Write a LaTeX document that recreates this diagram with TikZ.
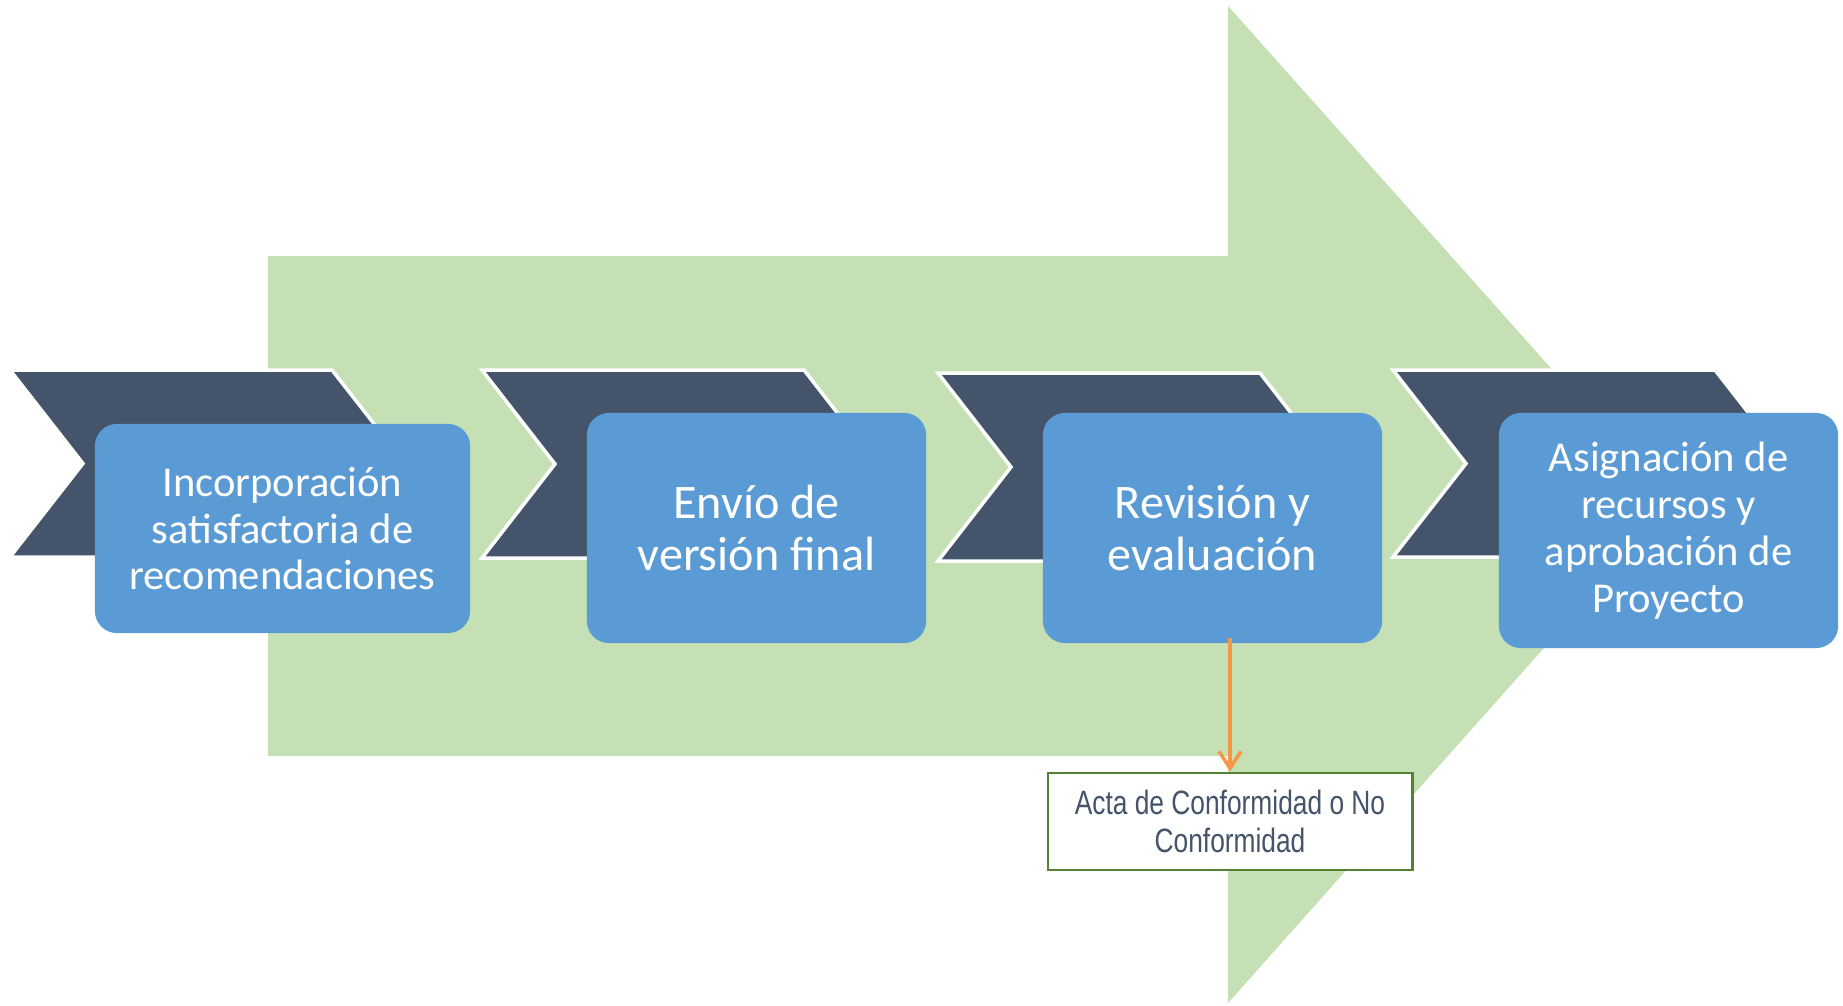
\documentclass[tikz,border=0pt]{standalone}
\usepackage{fontspec}
\setmainfont{Carlito}
\newfontfamily\narrowfont[FakeStretch=0.78]{Liberation Sans}
\usetikzlibrary{arrows.meta}
\definecolor{arrowgreen}{HTML}{C5E0B4}
\definecolor{chevdark}{HTML}{44546A}
\definecolor{stepblue}{HTML}{5B9BD5}
\definecolor{actgreen}{HTML}{548235}
\definecolor{linkorange}{HTML}{F79646}
\tikzset{
  chevron/.style={fill=chevdark,draw=white,line width=1pt},
  stepbox/.style={fill=stepblue,rounded corners=0.22cm,text=white,align=center,inner sep=0pt},
  actbox/.style={fill=white,draw=actgreen,line width=0.8pt,text=chevdark,align=center,inner sep=0pt},
}
\begin{document}
\begin{tikzpicture}[x=0.01cm,y=-0.01cm]
  \useasboundingbox (0,0) rectangle (1843,1005);

  % big background arrow
  \fill[arrowgreen] (268,256) -- (1228,256) -- (1228,6) -- (1672,504)
    -- (1228,1003) -- (1228,756) -- (268,756) -- cycle;

  % chevrons: left x / top y / bottom y
  \foreach \cl/\ct/\cb in {10/370/557, 482/370/558, 938/373/561, 1393/370/557}
    \draw[chevron] (\cl,\ct) -- ({\cl+322},\ct) -- ({\cl+395},{(\ct+\cb)/2})
      -- ({\cl+322},\cb) -- (\cl,\cb) -- ({\cl+73},{(\ct+\cb)/2}) -- cycle;

  % steps
  \node[stepbox,minimum width=3.75cm,minimum height=2.09cm,font=\fontsize{12.1}{13.1}\selectfont]
    (inc) at (282.5,528.5) {Incorporación\\satisfactoria de\\recomendaciones};
  \node[stepbox,minimum width=3.39cm,minimum height=2.30cm,font=\fontsize{13.7}{14.8}\selectfont]
    (env) at (756.5,528) {Envío de\\versión final};
  \node[stepbox,minimum width=3.39cm,minimum height=2.30cm,font=\fontsize{13.7}{14.8}\selectfont]
    (rev) at (1212.5,528) {Revisión y\\evaluación};
  \node[stepbox,minimum width=3.39cm,minimum height=2.35cm,font=\fontsize{12.1}{13.4}\selectfont]
    (asg) at (1668.5,530.5) {Asignación de\\recursos y\\aprobación de\\Proyecto};

  % output of the review
  \node[actbox,minimum width=3.64cm,minimum height=0.97cm,font=\narrowfont\fontsize{9.6}{10.9}\selectfont]
    (act) at (1230,821.5) {Acta de Conformidad o No\\Conformidad};
  \draw[linkorange,line width=1pt,-{Straight Barb[length=0.17cm,width=0.22cm]}]
    ([yshift=0.06cm]act.north |- rev.south) -- (act.north);
\end{tikzpicture}
\end{document}
